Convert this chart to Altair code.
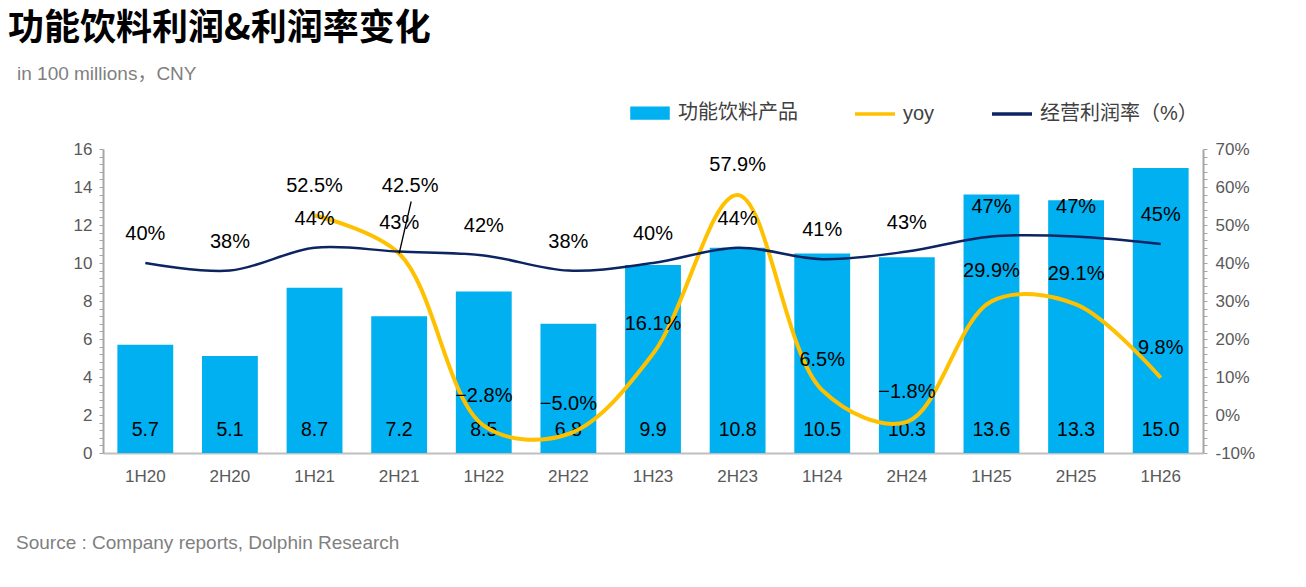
import altair as alt
import pandas as pd

# ---- data ----
periods = ["1H20", "2H20", "1H21", "2H21", "1H22", "2H22", "1H23",
           "2H23", "1H24", "2H24", "1H25", "2H25", "1H26"]
profit = [5.7, 5.1, 8.7, 7.2, 8.5, 6.8, 9.9, 10.8, 10.5, 10.3, 13.6, 13.3, 15.0]
margin = [40, 38, 44, 43, 42, 38, 40, 44, 41, 43, 47, 47, 45]
yoy = [None, None, 52.5, 42.5, -2.8, -5.0, 16.1, 57.9, 6.5, -1.8, 29.9, 29.1, 9.8]

series_names = ["功能饮料产品", "yoy", "经营利润率（%）"]
series_colors = ["#00B0F0", "#FFC000", "#0C2461"]

left_ticks = [round(i * 0.4, 1) for i in range(41)]
right_ticks = list(range(-10, 71, 2))

FONT = "Liberation Sans, Noto Sans CJK SC"
GREY = "#595959"
AXIS_GREY = "#A6A6A6"

df = pd.DataFrame({"period": periods, "profit": profit, "margin": margin, "yoy": yoy})

x_enc = alt.X(
    "period:N", sort=periods, title=None,
    scale=alt.Scale(paddingInner=0.34, paddingOuter=0.17),
    axis=alt.Axis(labelAngle=0, labelFontSize=17, labelColor=GREY, labelFont=FONT,
                  ticks=False, tickSize=0, labelPadding=15,
                  domainColor="#BFBFBF", domainWidth=2),
)
x_plain = alt.X("period:N", sort=periods)

# --------------------------
# 왼쪽 축: 막대 + 값 레이블
# --------------------------
left_axis = alt.Axis(
    values=left_ticks, grid=False, labelOverlap=False, labelFlush=False,
    labelExpr="datum.value % 2 == 0 ? format(datum.value, '.0f') : ''",
    tickSize=4, tickColor=AXIS_GREY, domainColor=AXIS_GREY, domainWidth=2,
    labelFontSize=17, labelColor=GREY, labelFont=FONT, labelPadding=7,
)
y_left = alt.Scale(domain=[0, 16], nice=False)

bars = alt.Chart(df).mark_bar(color=series_colors[0]).encode(
    x=x_enc,
    y=alt.Y("profit:Q", scale=y_left, title=None, axis=left_axis),
)
bar_text = alt.Chart(df).mark_text(
    fontSize=19.5, font=FONT, color="black", baseline="middle", dy=-23
).encode(
    x=x_plain,
    y=alt.Y("base:Q", scale=y_left, axis=None),
    text=alt.Text("profit:Q", format=".1f"),
).transform_calculate(base="0")

# --------------------------
# 오른쪽 축: 이익률 / yoy 선
# --------------------------
right_axis = alt.Axis(
    orient="right", values=right_ticks, grid=False, labelOverlap=False, labelFlush=False,
    labelExpr="datum.value % 10 == 0 ? datum.value + '%' : ''",
    tickSize=4, tickColor=AXIS_GREY, domainColor=AXIS_GREY, domainWidth=2,
    labelFontSize=17, labelColor=GREY, labelFont=FONT, labelPadding=8,
)
y_right = alt.Scale(domain=[-10, 70], nice=False)

yoy_line = alt.Chart(df).mark_line(
    color=series_colors[1], strokeWidth=4, interpolate="catmull-rom"
).encode(
    x=x_plain,
    y=alt.Y("yoy:Q", scale=y_right, title=None, axis=right_axis),
)
margin_line = alt.Chart(df).mark_line(
    color=series_colors[2], strokeWidth=2.5, interpolate="catmull-rom"
).encode(
    x=x_plain,
    y=alt.Y("margin:Q", scale=y_right, axis=None),
)
margin_text = alt.Chart(df).mark_text(
    fontSize=20, font=FONT, color="black", baseline="middle", dy=-29
).encode(
    x=x_plain,
    y=alt.Y("margin:Q", scale=y_right, axis=None),
    text="lbl:N",
).transform_calculate(lbl="format(datum.margin, '.0f') + '%'")

yoy_text = alt.Chart(df).mark_text(
    fontSize=20, font=FONT, color="black", baseline="middle", dy=-30
).encode(
    x=x_plain,
    y=alt.Y("yoy:Q", scale=y_right, axis=None),
    text="lbl:N",
).transform_filter(
    "isValid(datum.yoy) && datum.period != '2H21'"
).transform_calculate(lbl="format(datum.yoy, '.1f') + '%'")

# 2H21 레이블은 지시선과 함께 위로 이동
yoy_text_2h21 = alt.Chart(df).mark_text(
    fontSize=20, font=FONT, color="black", baseline="middle", dx=11, dy=-68
).encode(
    x=x_plain,
    y=alt.Y("yoy:Q", scale=y_right, axis=None),
    text="lbl:N",
).transform_filter("datum.period == '2H21'").transform_calculate(
    lbl="format(datum.yoy, '.1f') + '%'")

leader = alt.Chart(df).mark_rule(
    color="black", strokeWidth=1.3, x2Offset=12, y2Offset=-52
).encode(
    x=x_plain,
    x2=alt.X2("period"),
    y=alt.Y("yoy:Q", scale=y_right, axis=None),
    y2=alt.Y2("yoy"),
).transform_filter("datum.period == '2H21'")

# --------------------------
# 범례 (투명 포인트 레이어)
# --------------------------
shape_paths = ["M-0.9,-0.24H0.9V0.24H-0.9Z", "M-1,0H1", "M-1,0H1"]
legend_df = pd.DataFrame({"series": series_names})
leg = alt.Legend(
    orient="none", legendX=525, legendY=-58, direction="horizontal", title=None,
    labelFontSize=20, labelColor="#404040", labelFont=FONT, labelLimit=400,
    symbolSize=1600, symbolStrokeWidth=3.5, symbolOpacity=1,
    labelOffset=6, columnPadding=50, padding=0,
)
legend_layer = alt.Chart(legend_df).mark_point(filled=True, opacity=0).encode(
    color=alt.Color("series:N", sort=series_names,
                    scale=alt.Scale(domain=series_names, range=series_colors), legend=leg),
    stroke=alt.Stroke("series:N", sort=series_names,
                      scale=alt.Scale(domain=series_names, range=series_colors), legend=leg),
    shape=alt.Shape("series:N", sort=series_names,
                    scale=alt.Scale(domain=series_names, range=shape_paths), legend=leg),
)

# 단위 / 출처 텍스트
unit_df = pd.DataFrame({"t": ["in 100 millions，CNY"]})
unit = alt.Chart(unit_df).mark_text(
    align="left", baseline="middle", fontSize=19, font=FONT, color="#7F7F7F"
).encode(x=alt.value(-86), y=alt.value(-75), text="t:N")

source_df = pd.DataFrame({"src": ["Source : Company reports, Dolphin Research"]})
source = alt.Chart(source_df).mark_text(
    align="left", baseline="middle", fontSize=19, font=FONT, color="#7F7F7F"
).encode(x=alt.value(-87), y=alt.value(394), text="src:N")

chart = alt.layer(
    bars, bar_text, yoy_line, margin_line, leader, margin_text, yoy_text, yoy_text_2h21,
    legend_layer, unit, source
).resolve_scale(
    y="independent"
).properties(
    width=1100, height=304,
    padding={"left": 95, "top": 141, "right": 95, "bottom": 126},
    autosize=alt.AutoSizeParams(type="none"),
    background="white",
    title=alt.TitleParams(
        text="功能饮料利润&利润率变化",
        anchor="start", frame="group", dx=-95, offset=17,
        font="Noto Sans CJK SC", fontSize=36, fontWeight="bold", color="black",
    ),
).configure_view(stroke="transparent")

chart.save("out.html", embed_options={"renderer": "svg", "actions": False})
